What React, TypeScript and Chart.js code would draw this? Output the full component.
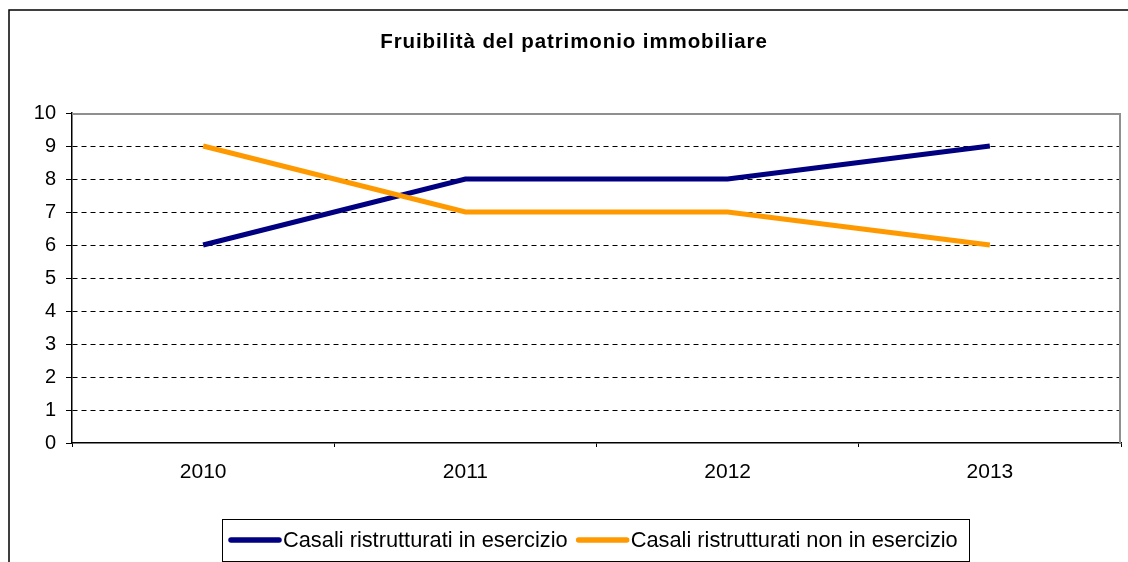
import React, { useEffect, useRef } from "react";
import { Chart, registerables } from "chart.js";

Chart.register(...registerables);

const TITLE = "Fruibilità del patrimonio immobiliare";
const years = ["2010", "2011", "2012", "2013"];
const casaliInEsercizio = [6, 8, 8, 9];
const casaliNonInEsercizio = [9, 7, 7, 6];
const seriesLabels = ["Casali ristrutturati in esercizio", "Casali ristrutturati non in esercizio"];
const seriesColors = ["#000080", "#FF9900"];

const FONT = "'Liberation Sans', Arial, sans-serif";

const framePlugin = {
  id: "framePlugin",
  beforeDraw(chart: any) {
    const ctx = chart.ctx;
    ctx.save();
    ctx.fillStyle = "#ffffff";
    ctx.fillRect(0, 0, chart.width, chart.height);
    ctx.strokeStyle = "#000000";
    ctx.lineWidth = 1.5;
    ctx.beginPath();
    ctx.moveTo(9, chart.height + 2);
    ctx.lineTo(9, 10);
    ctx.lineTo(chart.width + 2, 10);
    ctx.stroke();
    ctx.restore();
  },
  afterDraw(chart: any) {
    const ctx = chart.ctx;
    const a = chart.chartArea;
    ctx.save();
    // plot area top/right border (grey)
    ctx.strokeStyle = "#8f8f8f";
    ctx.lineWidth = 2;
    ctx.beginPath();
    ctx.moveTo(a.left, a.top + 1);
    ctx.lineTo(a.right - 1, a.top + 1);
    ctx.lineTo(a.right - 1, a.bottom);
    ctx.stroke();

    // title
    ctx.fillStyle = "#000000";
    ctx.font = `bold 20.5px ${FONT}`;
    (ctx as any).letterSpacing = "0.9px";
    ctx.textAlign = "center";
    ctx.textBaseline = "middle";
    ctx.fillText(TITLE, 574, 42);
    (ctx as any).letterSpacing = "0px";

    // legend
    const boxL = 222, boxT = 519, boxR = 969, boxB = 561;
    ctx.strokeStyle = "#000000";
    ctx.lineWidth = 1;
    ctx.strokeRect(boxL + 0.5, boxT + 0.5, boxR - boxL, boxB - boxT);
    ctx.font = `21.8px ${FONT}`;
    ctx.textAlign = "left";
    const cy = 540;
    let x = 229;
    chart.data.datasets.forEach((ds: any) => {
      ctx.strokeStyle = ds.borderColor;
      ctx.lineWidth = 5.5;
      ctx.lineCap = "round";
      ctx.beginPath();
      ctx.moveTo(x + 2, cy);
      ctx.lineTo(x + 50, cy);
      ctx.stroke();
      ctx.fillStyle = "#000000";
      ctx.fillText(ds.label, x + 54, cy + 1);
      x = x + 54 + ctx.measureText(ds.label).width + 9;
    });
    ctx.restore();
  },
};

export default function App() {
  const ref = useRef<HTMLCanvasElement | null>(null);
  useEffect(() => {
    if (!ref.current) return;
    const chart = new Chart(ref.current, {
      type: "line",
      data: {
        labels: years,
        datasets: [
          {
            label: seriesLabels[0],
            data: casaliInEsercizio,
            borderColor: seriesColors[0],
            backgroundColor: seriesColors[0],
            borderWidth: 5,
            pointRadius: 0,
            tension: 0,
            order: 2,
          },
          {
            label: seriesLabels[1],
            data: casaliNonInEsercizio,
            borderColor: seriesColors[1],
            backgroundColor: seriesColors[1],
            borderWidth: 5,
            pointRadius: 0,
            tension: 0,
            order: 1,
          },
        ],
      },
      options: {
        animation: false,
        responsive: false,
        maintainAspectRatio: false,
        layout: { padding: { left: 0, top: 113, right: 7, bottom: 79 } },
        plugins: {
          legend: { display: false },
          title: { display: false },
          tooltip: { enabled: false },
        },
        scales: {
          x: {
            offset: true,
            afterFit: (s: any) => {
              s.height = 40;
            },
            grid: {
              offset: true,
              drawOnChartArea: false,
              drawTicks: true,
              tickLength: 4,
              tickColor: "#000000",
              tickWidth: 1,
              tickBorderDash: [],
              color: "#000000",
            },
            border: { display: true, color: "#000000", width: 1.5 },
            ticks: {
              color: "#000000",
              font: { family: FONT, size: 21 },
              padding: 13,
              maxRotation: 0,
            },
          },
          y: {
            min: 0,
            max: 10,
            afterFit: (s: any) => {
              s.width = 72;
            },
            grid: {
              color: (c: any) =>
                c.tick && (c.tick.value === 10 || c.tick.value === 0) ? "rgba(0,0,0,0)" : "#000000",
              lineWidth: 1,
              drawTicks: true,
              tickLength: 6,
              tickColor: "#000000",
              tickWidth: 1,
              tickBorderDash: [],
            },
            border: { display: true, color: "#000000", width: 1.5, dash: [5, 4] },
            ticks: {
              stepSize: 1,
              color: "#000000",
              font: { family: FONT, size: 20 },
              padding: 10,
            },
          },
        },
      },
      plugins: [framePlugin],
    } as any);
    return () => chart.destroy();
  }, []);
  return (
    <div style={{ position: "fixed", left: 0, top: 0, width: 1128, height: 562, background: "#fff" }}>
      <canvas ref={ref} width={1128} height={562} style={{ display: "block", width: 1128, height: 562 }} />
    </div>
  );
}
